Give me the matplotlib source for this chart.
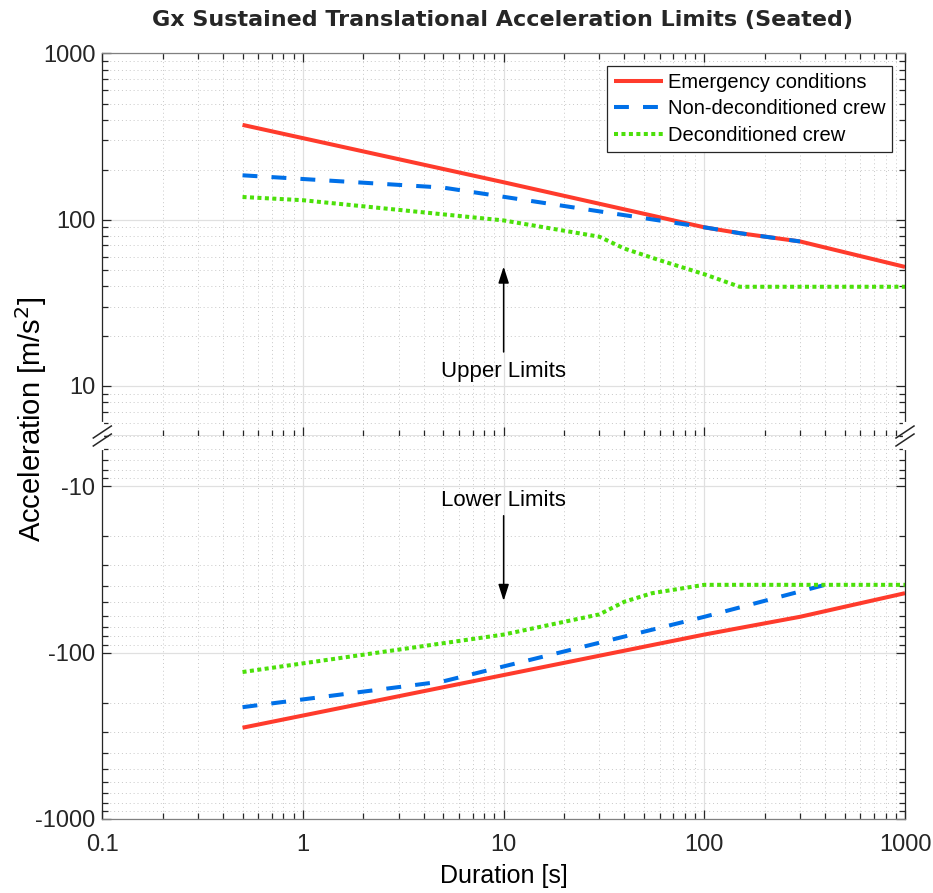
import numpy as np
import matplotlib
matplotlib.use('Agg')
import matplotlib.pyplot as plt
from matplotlib.ticker import FixedLocator, FuncFormatter, LogLocator, NullFormatter
from matplotlib.lines import Line2D

plt.rcParams['font.family'] = ['Liberation Sans', 'DejaVu Sans']
plt.rcParams['axes.unicode_minus'] = False

# upper limits [m/s^2] vs duration [s]
emerg_up_t = [0.5, 10, 100, 150, 300, 1000]
emerg_up_a = [372, 168, 90, 83, 74, 52]
nondecon_up_t = [0.5, 5, 100, 150, 300]
nondecon_up_a = [185, 156, 90, 83, 74]
decon_up_t = [0.5, 1, 10, 30, 40, 60, 100, 150, 1000]
decon_up_a = [137, 131, 99, 79, 67, 57, 47, 39.5, 39.5]

# lower limits [m/s^2]
emerg_lo_t = [0.5, 100, 300, 1000]
emerg_lo_a = [-283, -78, -61, -44]
nondecon_lo_t = [0.5, 5, 100, 400]
nondecon_lo_a = [-213, -149, -61, -39.2]
decon_lo_t = [0.5, 10, 30, 40, 55, 100, 1000]
decon_lo_a = [-131, -78, -59, -49.5, -44, -39.2, -39.2]

x_ticks = [0.1, 1, 10, 100, 1000]
labels = ['Emergency conditions', 'Non-deconditioned crew', 'Deconditioned crew']
c_red = '#ff3b2c'
c_blue = '#0070e8'
c_green = '#4ce00a'
lw = 2.9


def neg_fwd(y):
    with np.errstate(divide='ignore', invalid='ignore'):
        return -np.log10(-np.asarray(y, dtype=float))


def neg_inv(u):
    return -np.power(10.0, -np.asarray(u, dtype=float))


plain = FuncFormatter(lambda v, p: '%g' % v)


def style_axes(ax):
    ax.set_xscale('log')
    ax.set_xlim(0.1, 1000)
    ax.xaxis.set_major_locator(FixedLocator(x_ticks))
    ax.xaxis.set_major_formatter(plain)
    ax.xaxis.set_minor_locator(LogLocator(base=10, subs=np.arange(2, 10)))
    ax.xaxis.set_minor_formatter(NullFormatter())
    ax.grid(True, which='major', color='#e0e0e0', lw=0.9, ls='-')
    ax.grid(True, which='minor', color='#c8c8c8', lw=0.7, ls=(0, (1, 3)))
    ax.set_axisbelow(True)
    ax.tick_params(which='both', direction='in', colors='#262626', labelsize=17, width=0.9)
    ax.tick_params(which='major', length=6.5)
    ax.tick_params(which='minor', length=4)
    ax.tick_params(axis='y', pad=5)
    ax.tick_params(axis='x', pad=11)
    for s in ax.spines.values():
        s.set_color('#262626')
        s.set_linewidth(0.9)


fig = plt.figure(figsize=(9.33, 8.93), dpi=100)
ax1 = fig.add_axes([0.1096, 0.5118, 0.8604, 0.4283])
ax2 = fig.add_axes([0.1096, 0.0829, 0.8604, 0.4289])

# ---- upper axes
style_axes(ax1)
ax1.set_yscale('log')
ax1.set_ylim(5, 1000)
ax1.yaxis.set_major_locator(FixedLocator([10, 100, 1000]))
ax1.yaxis.set_major_formatter(plain)
ax1.yaxis.set_minor_locator(LogLocator(base=10, subs=np.arange(2, 10)))
ax1.yaxis.set_minor_formatter(NullFormatter())
ax1.tick_params(which='both', top=True, bottom=True, left=True, right=True, labelbottom=False)
ax1.spines['top'].set_color('#808080')

ax1.plot(emerg_up_t, emerg_up_a, color=c_red, lw=lw, solid_capstyle='butt', label=labels[0])
ax1.plot(nondecon_up_t, nondecon_up_a, color=c_blue, lw=lw, ls=(0, (3.7, 3.5)), label=labels[1])
ax1.plot(decon_up_t, decon_up_a, color=c_green, lw=lw, ls=(0, (1, 0.85)), label=labels[2])

ax1.annotate('', xy=(10, 54.3), xytext=(10, 15.4),
             arrowprops=dict(arrowstyle='-|>,head_length=1.0,head_width=0.32', color='k', lw=1.1))
ax1.text(10, 11.3, 'Upper Limits', ha='center', va='baseline', fontsize=16)

leg = ax1.legend(loc='upper right', bbox_to_anchor=(0.984, 0.967), borderaxespad=0,
                 fontsize=14.5, frameon=True, fancybox=False, framealpha=1,
                 edgecolor='#262626', handlelength=2.4, handletextpad=0.25,
                 labelspacing=0.36, borderpad=0.35)
leg.get_frame().set_linewidth(0.9)

# ---- lower axes
style_axes(ax2)
ax2.set_yscale('function', functions=(neg_fwd, neg_inv))
ax2.set_ylim(-1000, -5)
ax2.yaxis.set_major_locator(FixedLocator([-1000, -100, -10]))
ax2.yaxis.set_major_formatter(plain)
minor = [-k * 10.0 ** n for n in range(0, 3) for k in range(2, 10) if k * 10 ** n >= 5]
ax2.yaxis.set_minor_locator(FixedLocator(minor))
ax2.yaxis.set_minor_formatter(NullFormatter())
ax2.tick_params(which='both', top=False, bottom=True, left=True, right=True)
ax2.spines['top'].set_visible(False)
ax2.spines['bottom'].set_color('#808080')

ax2.plot(emerg_lo_t, emerg_lo_a, color=c_red, lw=lw, solid_capstyle='butt')
ax2.plot(nondecon_lo_t, nondecon_lo_a, color=c_blue, lw=lw, ls=(0, (3.7, 3.5)))
ax2.plot(decon_lo_t, decon_lo_a, color=c_green, lw=lw, ls=(0, (1, 0.85)))

ax2.annotate('', xy=(10, -50.9), xytext=(10, -14.5),
             arrowprops=dict(arrowstyle='-|>,head_length=1.0,head_width=0.32', color='k', lw=1.1))
ax2.text(10, -13.2, 'Lower Limits', ha='center', va='baseline', fontsize=16)

# ---- axis break marks
W, H = 933.0, 893.0
for px in (102.3, 905.0):
    fig.add_artist(Line2D([px / W, px / W], [1 - 424 / H, 1 - 448 / H], color='white', lw=3,
                          transform=fig.transFigure, zorder=10))
    for dy in (-4.0, 4.0):
        y0 = 436 + dy
        fig.add_artist(Line2D([(px - 9) / W, (px + 9) / W], [1 - (y0 + 6) / H, 1 - (y0 - 6) / H],
                              color='#262626', lw=1.1, transform=fig.transFigure, zorder=11))

fig.text(0.5386, 0.978, 'Gx Sustained Translational Acceleration Limits (Seated)',
         ha='center', va='center', fontsize=16, fontweight='bold', family='DejaVu Sans', color='#262626')
fig.text(0.033, 0.531, 'Acceleration [m/s$^2$]', rotation=90, ha='center', va='center', fontsize=21)
fig.text(0.540, 0.019, 'Duration [s]', ha='center', va='center', fontsize=18)

fig.savefig('out.png', dpi=100)
